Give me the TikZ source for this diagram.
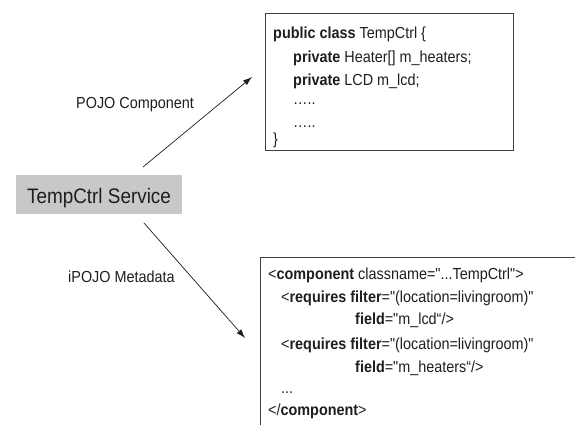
\documentclass[tikz,border=0pt]{standalone}
\usepackage{fontspec}
\setmainfont{Liberation Sans}[Ligatures=TeXOff, FakeStretch=0.9]
\usetikzlibrary{arrows.meta}
\definecolor{ink}{HTML}{1E1E1E}
\definecolor{svcgray}{HTML}{C8C8C8}
\tikzset{
  codeline/.style={anchor=base west, inner sep=0pt, text=ink,
    font=\fontsize{16}{19}\selectfont},
  labeltext/.style={anchor=base west, inner sep=0pt, text=ink,
    font=\fontsize{16}{19}\selectfont},
  codebox/.style={draw=ink!85, line width=0.9pt},
  svcbox/.style={fill=svcgray, inner sep=0pt, text=ink,
    minimum width=166pt, minimum height=39pt,
    text height=17pt, text depth=0pt,
    font=\fontsize{21}{24}\selectfont},
  link/.style={draw=ink, line width=0.7pt,
    -{Latex[length=9pt,width=6pt]}}
}
\begin{document}
\begin{tikzpicture}[x=1pt,y=-1pt]
\useasboundingbox (0,0) rectangle (575,424);

% service box
\node[svcbox] (svc) at (99,194.5) {TempCtrl Service};

% POJO component source
\coordinate (pojoNW) at (265,13);
\coordinate (pojoSE) at (513,150);
\draw[codebox] (pojoNW) rectangle (pojoSE);
\node[codeline] (p1) at (273,38)  {\textbf{public class} TempCtrl \{};
\node[codeline] (p2) at (293,62)  {\textbf{private} Heater[] m\_heaters;};
\node[codeline] (p3) at (293,85)  {\textbf{private} LCD m\_lcd;};
\node[codeline] (p4) at (293,104) {…..};
\node[codeline] (p5) at (293,127) {…..};
\node[codeline] (p6) at (273,144) {\}};

% iPOJO metadata, running off the page edge
\coordinate (metaNW) at (260,257);
\begin{scope}
  \clip (0,0) rectangle (575,424);
  \draw[codebox] (metaNW) rectangle (610,460);
\end{scope}
\node[codeline] (m1) at (268,279) {<\textbf{component} classname="...TempCtrl">};
\node[codeline] (m2) at (281,302) {<\textbf{requires filter}="(location=livingroom)"};
\node[codeline] (m3) at (355,324) {\textbf{field}="m\_lcd“/>};
\node[codeline] (m4) at (281,349) {<\textbf{requires filter}="(location=livingroom)"};
\node[codeline] (m5) at (355,372) {\textbf{field}="m\_heaters“/>};
\node[codeline] (m6) at (281,393) {...};
\node[codeline] (m7) at (268,415) {</\textbf{component}>};

% connectors
\coordinate (upStart) at (143,167);
\coordinate (upTip) at (252,77);
\coordinate (downStart) at (144,223);
\coordinate (downTip) at (245,338);
\draw[link] (upStart) -- (upTip);
\draw[link] (downStart) -- (downTip);

% connector labels
\node[labeltext] (lblPojo) at (76,108) {POJO Component};
\node[labeltext] (lblMeta) at (68,282) {iPOJO Metadata};
\end{tikzpicture}
\end{document}
